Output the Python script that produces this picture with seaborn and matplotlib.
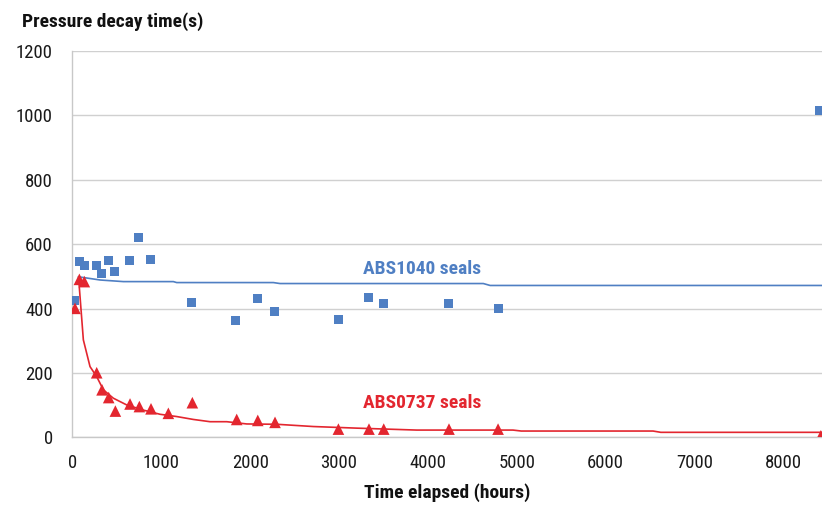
import pandas as pd
import matplotlib
matplotlib.use("Agg")
import matplotlib.pyplot as plt
import seaborn as sns

# measured points
abs1040_hours = [22, 75, 132, 267, 323, 402, 477, 641, 747, 877, 1346, 1838, 2078, 2272,
                 2993, 3337, 3503, 4237, 4789, 8403]
abs1040_time = [425, 545, 533, 535, 510, 549, 516, 549, 622, 553, 420, 363, 433, 392,
                366, 436, 417, 417, 399, 1015]

abs0737_hours = [30, 79, 135, 274, 334, 409, 484, 649, 754, 885, 1080, 1350, 1849, 2086, 2280,
                 2993, 3337, 3503, 4237, 4789, 8420]
abs0737_time = [401, 491, 484, 201, 148, 124, 82, 104, 96, 89, 75, 108, 56, 53, 47,
                26, 26, 26, 26, 26, 5]

# trend lines
trend1040_hours = [68, 312, 574, 1136, 1174, 2261, 2336, 4623, 4700, 8440]
trend1040_time = [499, 489, 484, 484, 481, 481, 478, 478, 472, 472]

trend0737_hours = [70, 124, 199, 274, 349, 461, 612, 799, 987, 1174, 1361, 1549, 1737, 1962,
                   2299, 2711, 3200, 3874, 4957, 5050, 6533, 6620, 8440]
trend0737_time = [497, 303, 220, 189, 148, 122, 101, 85, 72, 65, 56, 49, 49, 42,
                  41, 34, 29, 23, 23, 20, 20, 16, 16]

blue = "#4f7fc3"
red = "#e3262f"

sns.set_style("white")
plt.rcParams['font.family'] = ['Roboto Condensed', 'Archivo Narrow', 'Barlow Semi Condensed',
                               'DejaVu Sans']

fig = plt.figure(figsize=(8.22, 5.05), dpi=100)
ax = fig.add_axes([0.088, 0.1337, 0.912, 0.7653])

pts1040 = pd.DataFrame({'hours': abs1040_hours, 'time': abs1040_time})
pts0737 = pd.DataFrame({'hours': abs0737_hours, 'time': abs0737_time})
tr1040 = pd.DataFrame({'hours': trend1040_hours, 'time': trend1040_time})
tr0737 = pd.DataFrame({'hours': trend0737_hours, 'time': trend0737_time})

sns.lineplot(data=tr1040, x='hours', y='time', color=blue, linewidth=1.2, sort=False,
             estimator=None, ax=ax, zorder=2)
sns.lineplot(data=tr0737, x='hours', y='time', color=red, linewidth=1.2, sort=False,
             estimator=None, ax=ax, zorder=2)
sns.scatterplot(data=pts1040, x='hours', y='time', marker='s', s=42, color=blue,
                edgecolor='none', ax=ax, zorder=3)
sns.scatterplot(data=pts0737, x='hours', y='time', marker='^', s=70, color=red,
                edgecolor='none', ax=ax, zorder=3)

ax.set_xlim(0, 8433)
ax.set_ylim(0, 1200)
ax.set_xticks(range(0, 8001, 1000))
ax.set_yticks(range(0, 1201, 200))
ax.yaxis.grid(True, color='#d0d0d0', linewidth=1)
ax.set_axisbelow(True)
for side in ['top', 'right']:
    ax.spines[side].set_visible(False)
for side in ['left', 'bottom']:
    ax.spines[side].set_color('#c8c8c8')
    ax.spines[side].set_linewidth(1)
ax.tick_params(axis='both', length=5, width=1, color='#c8c8c8', labelsize=13.5,
               labelcolor='#1a1a1a')
ax.tick_params(axis='y', pad=9)
ax.tick_params(axis='x', pad=7)

ax.set_xlabel("Time elapsed (hours)", fontsize=14, fontweight='bold', labelpad=8,
              color='#111111')
ax.set_ylabel("")
fig.text(0.027, 0.957, "Pressure decay time(s)", fontsize=14, fontweight='bold',
         ha='left', va='center', color='#111111')

# series labels
ax.text(3930, 522, "ABS1040 seals", color=blue, fontsize=14, fontweight='semibold',
        ha='center', va='center')
ax.text(3930, 108, "ABS0737 seals", color=red, fontsize=14, fontweight='semibold',
        ha='center', va='center')

fig.savefig("out.png", dpi=100)
